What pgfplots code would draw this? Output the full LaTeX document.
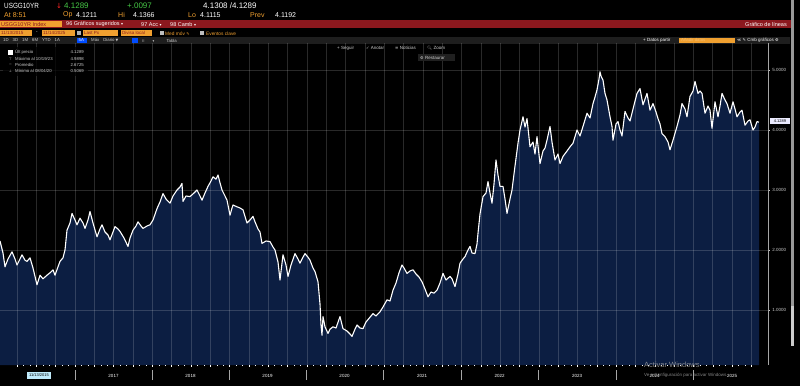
\documentclass[border=0pt]{standalone}
\usepackage{pgfplots}
\pgfplotsset{compat=1.18}
\usepackage{pgfplotstable}
\usepackage{fontspec}
\setmainfont{Liberation Sans}
\newfontfamily\dejavu{DejaVu Sans}
\newfontfamily\emoji{Noto Emoji}
\newcommand\fs[1]{\fontsize{#1}{#1}\selectfont}
\definecolor{navy}{RGB}{12,30,66}
\definecolor{bbor}{RGB}{240,160,48}
\definecolor{bbgreen}{RGB}{70,200,70}
\definecolor{bbred}{RGB}{140,24,30}
\definecolor{lbl}{RGB}{205,205,205}
\definecolor{band}{RGB}{30,30,30}

\pgfplotstableread{
x y
0 2.15
3 1.95
5 1.72
8 1.85
12 1.97
15 1.85
17 1.75
20 1.85
22 1.92
25 1.83
27 1.81
30 1.87
33 1.70
37 1.42
40 1.58
43 1.52
47 1.58
50 1.62
53 1.67
55 1.58
58 1.72
60 1.81
63 1.87
65 2.00
67 2.33
70 2.45
72 2.61
75 2.50
77 2.42
80 2.53
83 2.45
85 2.36
88 2.50
90 2.64
93 2.45
97 2.22
100 2.35
102 2.42
105 2.30
108 2.25
110 2.17
113 2.30
115 2.39
118 2.35
120 2.31
124 2.20
128 2.06
130 2.20
133 2.33
136 2.40
138 2.47
141 2.40
143 2.36
147 2.40
150 2.42
153 2.50
157 2.69
160 2.80
163 2.94
166 2.85
170 2.78
173 2.90
177 3.00
180 3.05
182 3.11
183 2.81
186 2.90
190 2.89
194 2.95
197 3.00
200 2.90
202 2.83
205 2.95
208 3.06
211 3.15
213 3.22
216 3.18
218 3.25
220 3.12
222 3.00
225 2.90
227 2.83
230 2.58
232 2.70
233 2.75
237 2.72
240 2.70
243 2.67
247 2.45
250 2.50
253 2.56
255 2.47
258 2.35
260 2.30
262 2.11
266 2.15
270 2.14
273 2.05
275 2.00
278 1.80
280 1.50
283 1.92
286 1.75
288 1.56
291 1.75
295 1.94
298 1.85
300 1.78
303 1.88
305 1.94
308 1.88
310 1.83
313 1.70
315 1.64
318 1.47
320 1.10
321 0.75
322 0.58
323 0.89
325 0.72
328 0.61
330 0.68
333 0.72
336 0.70
340 0.89
343 0.69
347 0.65
350 0.60
352 0.56
355 0.68
357 0.75
360 0.70
363 0.69
366 0.80
370 0.88
373 0.94
376 0.90
380 0.97
383 1.05
387 1.17
390 1.15
393 1.33
396 1.45
399 1.62
402 1.75
404 1.70
407 1.61
410 1.65
413 1.67
416 1.60
419 1.55
422 1.47
425 1.35
428 1.22
431 1.30
434 1.28
437 1.33
440 1.45
443 1.61
446 1.50
450 1.56
452 1.52
455 1.39
458 1.60
460 1.78
463 1.85
465 1.89
468 2.00
470 2.06
472 1.95
475 1.94
477 2.10
478 2.28
480 2.60
483 2.89
486 2.95
488 3.14
490 2.95
492 2.78
494 3.10
496 3.50
498 3.25
500 3.06
503 3.06
505 2.85
507 2.61
510 2.85
512 3.00
515 3.40
518 3.78
520 4.00
523 4.22
525 4.05
527 4.19
530 3.72
533 3.80
535 3.60
537 3.89
540 3.44
543 3.65
545 3.70
547 3.83
550 4.06
552 3.80
555 3.50
558 3.60
560 3.44
563 3.56
567 3.65
570 3.72
573 3.78
577 4.00
580 3.90
583 4.06
587 4.28
590 4.20
593 4.44
595 4.55
597 4.67
599 4.85
600 4.97
601 4.90
603 4.83
605 4.61
607 4.50
610 4.22
612 4.06
613 3.83
616 4.10
618 4.14
620 4.00
622 3.90
625 4.31
628 4.20
630 4.15
633 4.35
637 4.61
640 4.69
643 4.42
647 4.61
650 4.33
653 4.44
656 4.30
658 4.19
660 4.10
662 3.94
665 3.89
668 3.80
670 3.67
673 3.83
677 4.06
680 4.25
682 4.44
685 4.35
687 4.22
690 4.56
693 4.65
695 4.81
698 4.61
700 4.65
702 4.61
705 4.28
708 4.40
710 4.33
712 4.03
715 4.47
718 4.22
720 4.40
722 4.61
725 4.50
727 4.44
730 4.28
733 4.47
735 4.35
737 4.22
740 4.30
742 4.33
745 4.08
748 4.15
750 4.17
753 4.00
755 4.05
757 4.14
759 4.13
}\yields

\begin{document}
\begin{tikzpicture}[x=1pt,y=1pt]
\fill[black] (0,0) rectangle (800,386);
% row 5 band
\fill[band] (0,342) rectangle (790,349);

\begin{axis}[
  at={(0pt,21pt)}, anchor=south west,
  scale only axis, width=768pt, height=322pt,
  xmin=0, xmax=768, ymin=0.0833, ymax=5.45,
  axis line style={draw=none},
  axis on top,
  xtick={17.025,36.35,...,760}, xticklabels={},
  minor x tick num=2,
  xmajorgrids, ymajorgrids,
  grid style={white, opacity=0.16, line width=0.5pt},
  xtick pos=left, tick align=outside,
  major tick length=1.8pt, minor tick length=1.2pt,
  x tick style={white, line width=0.4pt},
  ytick={1,2,3,4,5}, minor y tick num=1,
  ytick pos=right, yticklabel pos=right,
  y tick style={lbl, line width=0.4pt},
  /pgf/number format/assume math mode=true,
  yticklabel style={font=\fs{4.5}, text=lbl, /pgf/number format/fixed, /pgf/number format/fixed zerofill, /pgf/number format/precision=4, xshift=-1pt},
]
\addplot[fill=navy, draw=none] table {\yields} \closedcycle;
\addplot[white, line width=1.1pt, line join=round] table {\yields};
\end{axis}
\draw[gray!70, line width=0.5pt] (768,21) -- (768,343);

% current value tag
\fill[white!92!blue] (770,261.5) rectangle (790,268);
\node[anchor=center, inner sep=0pt, text=black, font=\fs{4}] at (780,264.8) {4.1289};

% scrollbar on the right
\fill[gray!80] (791,80) rectangle (794,386);
\fill[gray!40] (791,40) rectangle (794,80);

% ---------- header ----------
\node[anchor=west, inner sep=0pt, text=white, font=\fs{7.5}, xscale=0.85] at (4,380) {USGG10YR};
\node[anchor=west, inner sep=0pt, text=red!85!white, font=\dejavu\fs{7}] at (56,380) {↓};
\node[anchor=west, inner sep=0pt, text=bbgreen, font=\fs{8}] at (64,380) {4.1289};
\node[anchor=west, inner sep=0pt, text=bbgreen, font=\fs{8}] at (127,380) {+.0097};
\node[anchor=west, inner sep=0pt, text=white, font=\fs{8}] at (203,380) {4.1308 /4.1289};

\node[anchor=west, inner sep=0pt, text=bbor, font=\fs{7}] at (4,371) {At 8:51};
\node[anchor=west, inner sep=0pt, text=bbor, font=\fs{7}] at (63,371) {Op};
\node[anchor=west, inner sep=0pt, text=white, font=\fs{7}] at (76,371) {4.1211};
\node[anchor=west, inner sep=0pt, text=bbor, font=\fs{7}] at (118,371) {Hi};
\node[anchor=west, inner sep=0pt, text=white, font=\fs{7}] at (133,371) {4.1366};
\node[anchor=west, inner sep=0pt, text=bbor, font=\fs{7}] at (188,371) {Lo};
\node[anchor=west, inner sep=0pt, text=white, font=\fs{7}] at (200,371) {4.1115};
\node[anchor=west, inner sep=0pt, text=bbor, font=\fs{7}] at (250,371) {Prev};
\node[anchor=west, inner sep=0pt, text=white, font=\fs{7}] at (275,371) {4.1192};

% red bar
\fill[bbred] (0,358) rectangle (791,365.5);
\fill[bbor] (0,358.5) rectangle (62,365);
\node[anchor=west, inner sep=0pt, text=bbred, font=\fs{5.5}] at (1,361.7) {USGG10YR Index};
\node[anchor=west, inner sep=0pt, text=white, font=\fs{5.5}] at (66,361.7) {96 Gráficos sugeridos {\dejavu\fs{4}▾}};
\node[anchor=west, inner sep=0pt, text=white, font=\fs{5.5}] at (141,361.7) {97 Acc {\dejavu\fs{4}▾}};
\node[anchor=west, inner sep=0pt, text=white, font=\fs{5.5}] at (170,361.7) {98 Camb {\dejavu\fs{4}▾}};
\node[anchor=east, inner sep=0pt, text=white, font=\fs{5.5}] at (787,361.7) {Gráfico de líneas};

% row 4
\fill[bbor] (0,350) rectangle (32,355.5);
\node[anchor=west, inner sep=0pt, text=bbred, font=\fs{4.5}] at (1,352.7) {11/13/2015};
\node[anchor=west, inner sep=0pt, text=white, font=\fs{4.5}] at (36,352.7) {-};
\fill[bbor] (42,350) rectangle (75,355.5);
\node[anchor=west, inner sep=0pt, text=bbred, font=\fs{4.5}] at (43,352.7) {11/14/2025};
\fill[gray!60] (77,350.5) rectangle (81,355);
\fill[bbor] (83,350) rectangle (118,355.5);
\node[anchor=west, inner sep=0pt, text=bbred, font=\fs{4.5}] at (84,352.7) {Last Px};
\fill[bbor] (121,350) rectangle (152,355.5);
\node[anchor=west, inner sep=0pt, text=bbred, font=\fs{4.5}] at (122,352.7) {Divisa local};
\fill[gray!50] (160,351) rectangle (163.5,354.5);
\node[anchor=west, inner sep=0pt, text=bbor, font=\fs{4.8}] at (165,352.7) {Med móv {\dejavu\fs{4}✎}};
\fill[gray!50] (200,351) rectangle (203.5,354.5);
\node[anchor=west, inner sep=0pt, text=bbor, font=\fs{4.8}] at (206,352.7) {Eventos clave};

% row 5
\node[anchor=west, inner sep=0pt, text=lbl, font=\fs{4.3}] at (3,345.5) {1D\hspace{4pt}3D\hspace{4pt}1M\hspace{4pt}6M\hspace{4pt}YTD\hspace{4pt}1A};
\fill[blue!70!cyan] (77,342.8) rectangle (87,348.3);
\node[anchor=west, inner sep=0pt, text=white, font=\fs{4.3}] at (78.5,345.5) {5A};
\node[anchor=west, inner sep=0pt, text=lbl, font=\fs{4.3}] at (91,345.5) {Máx\hspace{4pt}Diario {\dejavu\fs{3.5}▼}};
\fill[blue!70!cyan] (132,343) rectangle (138,348);
\node[anchor=west, inner sep=0pt, text=lbl, font=\fs{4.3}] at (142,345.5) {{\dejavu\fs{4}⁞⁞}\hspace{8pt}{\dejavu\fs{3.5}▾}\hspace{12pt}Tabla};
\node[anchor=west, inner sep=0pt, text=white, font=\fs{4.5}] at (643,345.5) {+ Datos partir};
\fill[bbor] (679,343) rectangle (735,348.3);
\node[anchor=west, inner sep=0pt, text=bbor!70!white, font=\fs{4.3}] at (681,345.6) {Añadir datos};
\node[anchor=west, inner sep=0pt, text=white, font=\fs{4.5}] at (737,345.5) {{\dejavu\fs{4}≪ ✎} Cmb gráficos {\dejavu\fs{4}⚙}};

% chart buttons
\node[anchor=west, inner sep=0pt, text=lbl, font=\fs{4.5}] at (337,338) {+ Seguir};
\node[anchor=west, inner sep=0pt, text=lbl, font=\fs{4.5}] at (366,338) {{\dejavu\fs{4}✓} Anotar};
\node[anchor=west, inner sep=0pt, text=lbl, font=\fs{4.5}] at (395,338) {{\dejavu\fs{4}≡} Noticias};
\node[anchor=west, inner sep=0pt, text=lbl, font=\fs{4.5}] at (427,338) {{\emoji\fs{4}🔍} Zoom};
\fill[gray!25!black] (418,325) rectangle (455,332);
\node[anchor=west, inner sep=0pt, text=lbl, font=\fs{4.5}] at (420,328.5) {{\dejavu\fs{4}⚙} Restaurar};

% legend box
\fill[black, opacity=0.75] (3,310) rectangle (88,339);
\fill[white] (8,331) rectangle (13,336);
\node[anchor=west, inner sep=0pt, text=lbl, font=\fs{4.3}] at (15,333.5) {Últ precio};
\node[anchor=east, inner sep=0pt, text=lbl, font=\fs{4.3}] at (84,333.5) {4.1289};
\node[anchor=center, inner sep=0pt, text=lbl, font=\dejavu\fs{3.5}] at (10.5,327.2) {⊤};
\node[anchor=west, inner sep=0pt, text=lbl, font=\fs{4.3}] at (15,327.2) {Máximo al 10/19/23};
\node[anchor=east, inner sep=0pt, text=lbl, font=\fs{4.3}] at (84,327.2) {4.9898};
\node[anchor=center, inner sep=0pt, text=lbl, font=\fs{4}] at (10.5,321.2) {–};
\node[anchor=west, inner sep=0pt, text=lbl, font=\fs{4.3}] at (15,321.2) {Promedio};
\node[anchor=east, inner sep=0pt, text=lbl, font=\fs{4.3}] at (84,321.2) {2.6725};
\node[anchor=center, inner sep=0pt, text=lbl, font=\dejavu\fs{3.5}] at (10.5,315) {⊥};
\node[anchor=west, inner sep=0pt, text=lbl, font=\fs{4.3}] at (15,315) {Mínimo al 08/04/20};
\node[anchor=east, inner sep=0pt, text=lbl, font=\fs{4.3}] at (84,315) {0.5069};

% ---------- bottom date strip ----------
\foreach \s in {75,152,229,306,383,461,538,616,693} {
  \draw[gray!70, line width=0.6pt] (\s,6) -- (\s,16);
}
\fill[cyan!25!white] (27,7) rectangle (51,14);
\node[anchor=center, inner sep=0pt, text=black, font=\fs{4}] at (39,10.5) {11/13/2015};
\foreach \x/\yr in {113.5/2017,190.5/2018,267.5/2019,344.5/2020,422/2021,499.5/2022,577/2023,654.5/2024,732/2025} {
  \node[anchor=center, inner sep=0pt, text=white, font=\fs{4.5}] at (\x,10.5) {\yr};
}
% watermark
\node[anchor=west, inner sep=0pt, text=gray!70, font=\fs{7.5}, opacity=0.8] at (644,21) {Activar Windows};
\node[anchor=west, inner sep=0pt, text=gray!70, font=\fs{4.5}, opacity=0.8] at (644,11) {Ve a Configuración para activar Windows.};

\pgfresetboundingbox
\useasboundingbox (0,0) rectangle (800,386);
\end{tikzpicture}
\end{document}
